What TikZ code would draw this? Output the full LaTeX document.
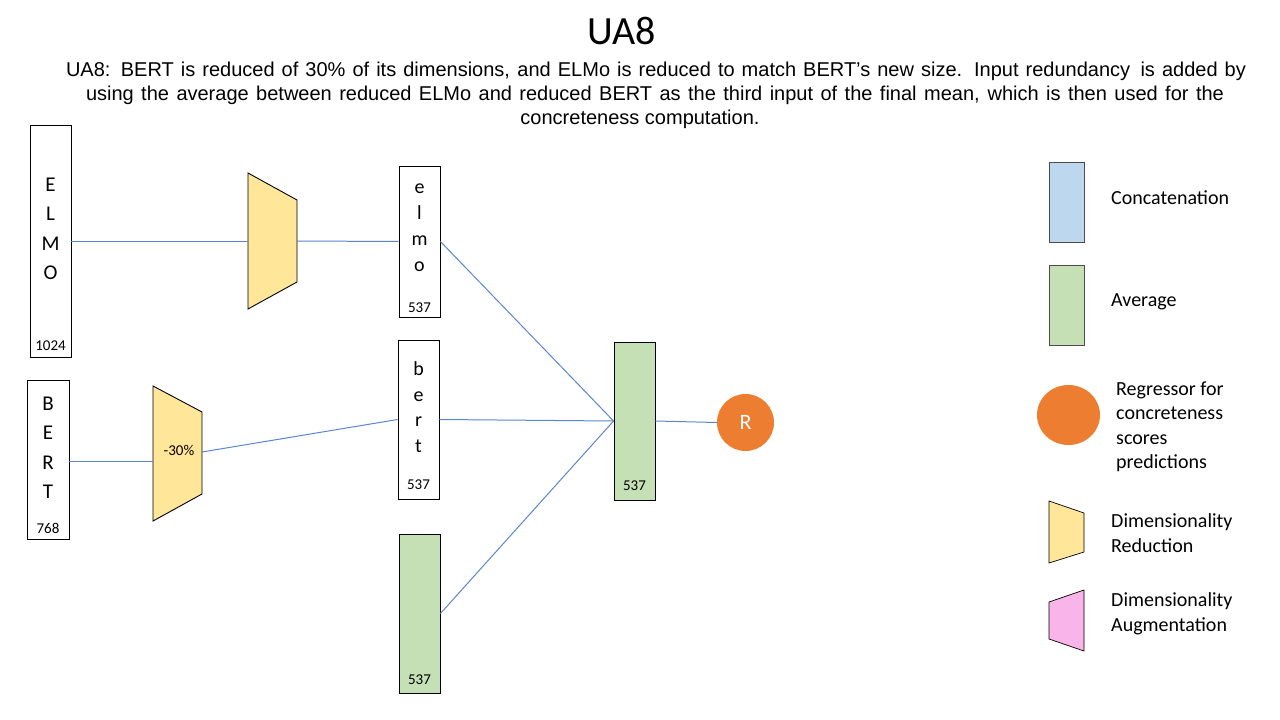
\documentclass[tikz,border=0pt]{standalone}
\usepackage{fontspec}
\usetikzlibrary{shapes.geometric}
\setmainfont{Carlito}
\newfontfamily\arialf{Liberation Sans}
\definecolor{yellowc}{HTML}{FFE699}
\definecolor{greenc}{HTML}{C5E0B4}
\definecolor{bluec}{HTML}{BDD7EE}
\definecolor{pinkc}{HTML}{F9B4E9}
\definecolor{orangec}{HTML}{ED7D31}
\definecolor{linec}{HTML}{5B85D0}
\begin{document}
\begin{tikzpicture}[x=1pt,y=-1pt,
  vbox/.style={draw=black, line width=0.9pt, inner sep=0pt, rectangle},
  letters/.style={inner sep=0pt, align=center},
  num/.style={inner sep=0pt, font=\fontsize{15}{18}\selectfont},
  trap/.style={draw=black, line width=0.9pt, line join=miter},
  conn/.style={draw=linec, line width=1pt},
  legtxt/.style={inner sep=0pt, anchor=west, align=left, font=\fontsize{20}{24.5}\selectfont},
  desc/.style={inner sep=0pt, anchor=base, font=\arialf\fontsize{20}{24}\selectfont}]
\useasboundingbox (0,0) rectangle (1280,720);

% title and description
\node[inner sep=0pt, anchor=base, font=\fontsize{40}{48}\selectfont] (title) at (622,44) {UA8};
\node[desc] (d1) at (656,76) {\makebox[1180pt][s]{UA8: BERT is reduced of 30\% of its dimensions, and ELMo is reduced to match BERT’s new size. Input redundancy\, is added by}};
\node[desc] (d2) at (655,100) {\makebox[1138pt][s]{using the average between reduced ELMo and reduced BERT as the third input of the final mean, which is then used for the}};
\node[desc] (d3) at (640,124) {concreteness computation.};

% ELMO input
\node[vbox, minimum width=41pt, minimum height=232pt] (ELMO) at (50.5,241) {};
\node[letters, font=\fontsize{21}{29.5}\selectfont] (ELMOt) at (50.5,229) {E\\L\\M\\O};
\node[num] (ELMOn) at (50.5,346) {1024};

% BERT input
\node[vbox, minimum width=42pt, minimum height=159pt] (BERT) at (48,459.5) {};
\node[letters, font=\fontsize{21}{29.5}\selectfont] (BERTt) at (48,448) {B\\E\\R\\T};
\node[num] (BERTn) at (48,528) {768};

% reducers
\draw[trap, fill=yellowc] (248,173) -- (297,200) -- (297,282) -- (248,309) -- cycle;
\coordinate (T1in) at (248,241);
\coordinate (T1out) at (297,241);
\draw[trap, fill=yellowc] (153,386) -- (202,412) -- (202,494) -- (153,521) -- cycle;
\coordinate (T2in) at (153,461);
\coordinate (T2out) at (202,452);
\node[num] (T2t) at (179,450) {-30\%};

% reduced vectors
\node[vbox, minimum width=41pt, minimum height=151pt] (elmo) at (419.5,241.5) {};
\node[letters, font=\fontsize{20}{26}\selectfont] (elmot) at (419.5,228) {e\\l\\m\\o};
\node[num] (elmon) at (419.5,308) {537};

\node[vbox, minimum width=41pt, minimum height=159pt] (bert) at (418.5,419.5) {};
\node[letters, font=\fontsize{20}{25.5}\selectfont] (bertt) at (418.5,407) {b\\e\\r\\t};
\node[num] (bertn) at (418.5,485) {537};

\node[vbox, fill=greenc, minimum width=41pt, minimum height=159pt] (avg1) at (419.5,613.5) {};
\node[num] (avg1n) at (419.5,680) {537};

% final mean
\node[vbox, fill=greenc, minimum width=41pt, minimum height=158pt] (mean) at (634.5,421) {};
\node[num] (meann) at (634.5,486) {537};

% regressor
\node[circle, fill=orangec, minimum size=57pt, inner sep=0pt, text=white, font=\fontsize{22}{24}\selectfont] (R) at (745.5,422.5) {R};

% connectors
\draw[conn] (ELMO.east) -- (T1in);
\draw[conn] (T1out) -- (elmo.west);
\draw[conn] (BERT.east |- T2in) -- (T2in);
\draw[conn] (T2out) -- (bert.west);
\draw[conn] (elmo.east) -- (mean.west);
\draw[conn] (bert.east) -- (mean.west);
\draw[conn] (avg1.east) -- (mean.west);
\draw[conn] (mean.east) -- (R.west);

% legend
\node[vbox, draw=black!70, line width=0.7pt, fill=bluec, minimum width=35pt, minimum height=80pt] (lgcat) at (1066.5,202) {};
\node[legtxt] (lgcatt) at (1111,198) {Concatenation};
\node[vbox, draw=black!70, line width=0.7pt, fill=greenc, minimum width=35pt, minimum height=80pt] (lgavg) at (1066.5,305) {};
\node[legtxt] (lgavgt) at (1111,302) {Average};
\node[ellipse, fill=orangec, minimum width=63pt, minimum height=60pt, inner sep=0pt] (lgR) at (1068.5,415) {};
\node[legtxt] (lgRt) at (1116,427) {Regressor for\\concreteness\\scores\\predictions};
\draw[trap, line width=0.7pt, fill=yellowc] (1049,501) -- (1084,513) -- (1084,552) -- (1049,563) -- cycle;
\node[legtxt] (lgredt) at (1111,533) {Dimensionality\\Reduction};
\draw[trap, line width=0.7pt, fill=pinkc] (1049,602) -- (1084,590) -- (1084,651) -- (1049,639) -- cycle;
\node[legtxt] (lgaugt) at (1111,614) {Dimensionality\\Augmentation};
\end{tikzpicture}
\end{document}
